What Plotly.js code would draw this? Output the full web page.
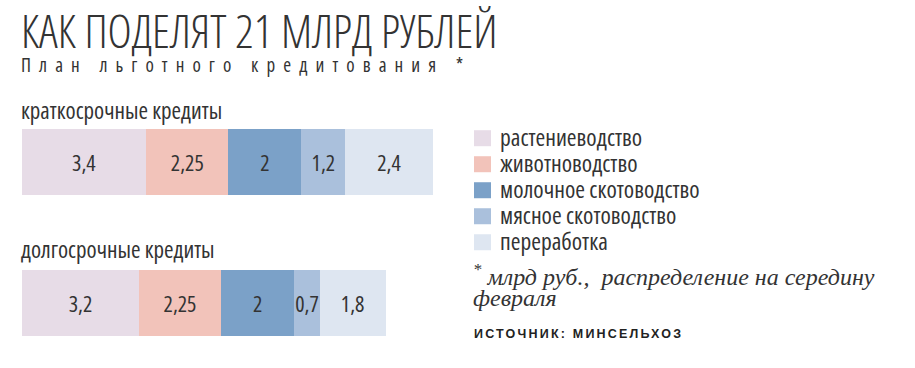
<!DOCTYPE html>
<html><head><meta charset="utf-8">
<script src="https://cdn.plot.ly/plotly-3.0.1.min.js"></script>
<style>html,body{margin:0;padding:0;background:#fff;}#chart{width:915px;height:368px;}
#chart text{font-stretch:condensed;}</style>
</head><body><div id="chart"></div>
<script>
// ---- data ----
const loanTypes = ["краткосрочные кредиты", "долгосрочные кредиты"];
const sectors = ["растениеводство", "животноводство", "молочное скотоводство", "мясное скотоводство", "переработка"];
const plantGrowing = [3.4, 3.2];
const livestock = [2.25, 2.25];
const dairyCattle = [2, 2];
const beefCattle = [1.2, 0.7];
const processing = [2.4, 1.8];
const sectorValues = [plantGrowing, livestock, dairyCattle, beefCattle, processing];
const colors = ["#e7dce7", "#f2c3ba", "#7ba1c8", "#aac0dc", "#dee6f1"];
const titleText = "КАК ПОДЕЛЯТ 21 МЛРД РУБЛЕЙ";
const subtitleText = "План льготного кредитования *";
const noteLine1 = "<sup>*</sup> млрд руб.,  распределение на середину";
const noteLine2 = "февраля";
const sourceText = "ИСТОЧНИК: МИНСЕЛЬХОЗ";

// ---- geometry (pixels) ----
const W = 915, H = 368;
const L = 22, Rp = 433, T = 106.3, B = 359.2;
const px2x = p => (p - L) / (Rp - L);
const px2y = p => (B - p) / (B - T);

const cond = "Open Sans, Roboto Condensed, sans-serif";
const serif = "Liberation Serif, serif";
const ink = "#333333";

const fmt = v => String(v).replace(".", ",");

const traces = sectors.map((name, i) => ({
  type: "bar",
  orientation: "h",
  name: name,
  y: loanTypes,
  x: sectorValues[i],
  text: sectorValues[i].map(fmt),
  textposition: "inside",
  insidetextanchor: "middle",
  constraintext: "none",
  textangle: 0,
  textfont: {family: cond, size: 22, color: ink},
  marker: {color: colors[i], line: {width: 0}},
  hoverinfo: "skip",
  showlegend: false
}));

const annotations = [];
const shapes = [];
function ann(text, xpx, ypx, font, extra) {
  annotations.push(Object.assign({
    text: text, xref: "paper", yref: "paper",
    x: px2x(xpx), y: px2y(ypx), xanchor: "left", yanchor: "middle",
    align: "left", showarrow: false, font: font
  }, extra || {}));
}
ann(titleText, 19, 30.5, {family: cond, size: 46, color: ink, weight: 300});
ann(subtitleText, 19, 65, {family: cond, size: 19, color: ink});
ann(loanTypes[0], 19, 110, {family: cond, size: 23, color: ink});
ann(loanTypes[1], 19, 249, {family: cond, size: 23, color: ink});
const legendY = [138.5, 164.5, 190.5, 216.5, 242.5];
sectors.forEach((s, i) => {
  shapes.push({type: "rect", xref: "paper", yref: "paper",
    x0: px2x(474), x1: px2x(491), y0: px2y(legendY[i] - 8), y1: px2y(legendY[i] + 8),
    fillcolor: colors[i], line: {width: 0}});
  ann(s, 498, legendY[i] - 1, {family: cond, size: 23.5, color: ink});
});
ann(noteLine1, 471, 275, {family: serif, size: 24, color: ink, style: "italic"});
ann(noteLine2, 471, 298, {family: serif, size: 24, color: ink, style: "italic"});
ann(sourceText, 472, 334, {family: "Liberation Sans, Arial, sans-serif", size: 12.5, color: "#222", weight: "bold"});

const layout = {
  width: W, height: H,
  margin: {l: L, r: W - Rp, t: T, b: H - B, pad: 0},
  paper_bgcolor: "#fff", plot_bgcolor: "#fff",
  barmode: "stack",
  bargap: 0.534,
  xaxis: {range: [0, 11.25], visible: false, fixedrange: true},
  yaxis: {type: "category", categoryarray: loanTypes, categoryorder: "array", range: [1.4, -0.4], visible: false, fixedrange: true},
  showlegend: false,
  annotations: annotations,
  shapes: shapes
};

Plotly.newPlot("chart", traces, layout, {staticPlot: true, displayModeBar: false}).then(gd => {
  const spacing = {1: "8.1px", [annotations.length - 1]: "2.2px"};
  gd.querySelectorAll(".annotation").forEach(g => {
    const idx = g.getAttribute("data-index");
    if (spacing[idx]) {
      const t = g.querySelector(".annotation-text");
      if (t) t.style.letterSpacing = spacing[idx];
    }
  });
});
</script>
</body></html>
